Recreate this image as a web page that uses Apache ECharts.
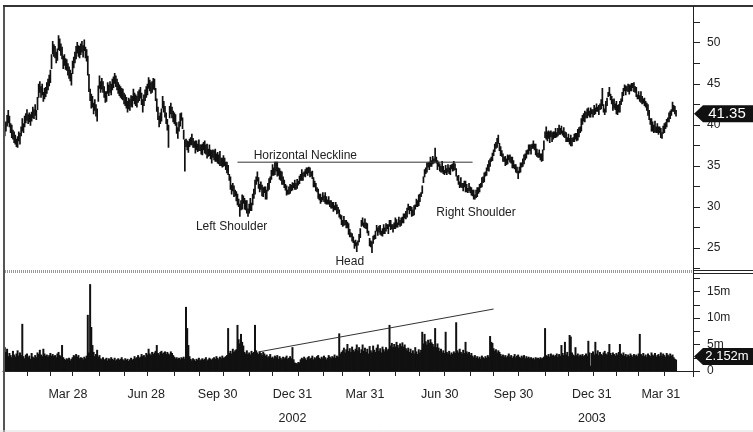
<!DOCTYPE html>
<html><head><meta charset="utf-8">
<script src="https://cdn.jsdelivr.net/npm/echarts@6/dist/echarts.min.js"></script>
<style>html,body{margin:0;padding:0;background:#fff}#c{width:753px;height:432px}</style>
</head><body><div id="c"></div>
<script>
// daily lows (trading days, Jan 2001 - Apr 2003)
const lows = [
38.3,38.6,39.2,39.8,40.2,39.7,39.0,38.4,38.2,37.8,
37.6,37.3,37.2,38.0,37.6,38.6,39.2,39.0,39.7,40.2,
40.5,40.1,40.3,39.9,40.4,40.8,40.7,41.1,40.6,41.8,
43.3,43.9,43.3,43.6,42.8,43.1,43.4,43.8,44.2,44.7,
45.1,46.8,48.6,48.3,48.1,47.5,47.8,49.1,49.0,48.4,
48.0,46.8,47.2,46.7,46.6,46.0,45.6,45.3,44.8,46.2,
46.9,47.5,48.0,48.7,48.3,48.1,48.5,48.8,48.2,49.0,
48.1,47.7,46.0,44.0,42.9,42.0,42.1,41.3,41.7,41.0,
40.4,42.8,44.4,43.9,44.3,43.9,43.3,42.7,42.8,43.8,
43.5,43.9,43.6,44.2,44.5,45.0,44.6,44.2,43.8,43.5,
43.3,43.1,43.0,42.5,42.3,42.0,41.5,41.9,41.7,42.2,
42.1,42.9,42.5,42.3,42.1,42.7,42.9,43.2,42.4,41.5,
42.3,42.9,43.3,43.6,44.4,44.1,43.8,43.9,44.3,44.2,
42.9,41.6,40.6,39.7,40.1,40.4,42.0,41.5,40.9,40.1,
39.3,37.2,40.8,41.3,40.8,40.3,40.1,39.9,38.9,38.3,
39.2,39.8,40.5,39.5,38.2,34.3,37.3,36.9,36.6,37.3,
37.5,37.5,37.2,37.2,36.5,36.9,36.7,36.8,36.8,36.4,
36.3,36.9,36.5,36.4,35.9,36.1,36.2,35.8,35.3,36.0,
35.7,35.5,35.5,35.3,35.2,35.0,35.0,34.8,34.9,35.0,
34.5,34.1,33.9,33.2,32.1,31.5,31.9,31.2,31.3,30.7,
30.2,30.0,28.8,29.6,29.7,30.4,29.7,29.6,29.2,28.8,
29.2,29.5,29.5,30.2,31.0,31.5,32.7,33.1,32.2,31.8,
32.1,31.3,31.2,31.7,30.9,30.9,31.9,32.1,32.9,33.3,
33.8,33.8,33.9,34.3,33.7,33.8,33.3,33.2,32.7,32.7,
32.3,32.0,31.4,31.5,31.5,31.6,31.9,32.0,32.3,32.1,
32.1,32.2,32.6,32.8,33.2,33.2,33.2,33.7,33.6,34.0,
33.8,34.1,33.6,33.7,33.4,32.4,32.4,31.9,31.8,31.0,
30.8,30.4,30.6,30.8,30.6,30.4,30.3,30.3,30.3,30.0,
29.8,29.8,29.4,29.6,29.6,29.1,29.2,28.7,28.5,27.8,
27.6,27.7,27.8,27.4,27.4,26.6,26.3,26.3,25.8,25.6,
24.9,25.2,24.5,25.3,25.7,26.2,27.6,27.7,27.5,27.4,
27.3,26.8,26.5,25.2,25.1,24.4,25.5,26.0,26.1,27.0,
26.5,26.9,26.6,26.5,26.4,26.7,26.7,27.0,27.3,26.7,
27.6,27.2,27.3,26.9,27.3,27.3,27.5,27.5,27.8,27.6,
27.7,28.0,28.0,28.6,28.5,28.7,29.6,29.1,29.5,28.8,
28.9,29.0,29.7,30.0,30.0,30.1,30.6,31.2,31.6,32.9,
33.6,34.0,34.2,34.8,34.5,34.9,34.9,35.2,35.3,35.5,
35.3,34.5,34.9,34.3,34.2,34.2,34.0,33.9,34.1,33.9,
34.2,34.0,33.9,34.6,34.3,34.4,34.5,33.7,33.2,32.7,
32.3,32.4,32.3,31.9,32.4,31.8,31.8,31.7,31.9,31.7,
31.4,31.3,30.9,30.9,31.1,31.2,31.6,31.8,32.3,32.4,
32.9,33.0,33.7,33.8,34.4,34.3,34.9,35.5,35.6,36.2,
36.7,37.1,37.2,37.7,36.8,36.2,36.1,35.5,35.5,35.0,
35.1,35.2,35.7,35.4,35.3,34.7,34.7,34.6,34.2,34.1,
33.4,34.1,34.2,34.8,34.9,35.2,35.7,35.9,36.4,36.4,
36.8,36.4,37.1,37.1,36.9,36.3,36.1,36.0,36.0,35.7,
35.5,35.6,36.9,38.4,38.2,38.0,38.3,37.8,38.5,37.9,
38.2,38.4,38.4,38.5,38.6,38.8,38.8,38.9,38.7,38.5,
38.4,37.9,37.9,37.9,37.6,37.4,37.4,37.9,37.9,38.2,
38.0,38.1,38.5,39.0,39.2,40.0,40.4,40.3,40.8,40.8,
41.1,40.9,40.9,41.3,40.9,41.2,41.3,41.6,41.6,41.2,
41.8,41.9,42.3,41.5,41.2,41.5,42.3,43.4,43.5,43.0,
42.5,41.7,42.0,41.8,41.3,41.2,41.5,41.5,42.4,42.8,
43.5,44.1,43.6,44.1,44.0,43.7,44.1,44.1,44.5,44.0,
43.9,43.4,43.1,43.1,42.8,42.7,42.5,42.6,42.3,42.1,
41.7,41.1,40.6,40.0,39.2,39.2,39.0,39.1,39.0,39.0,
38.8,39.0,38.4,38.3,38.9,39.0,39.5,39.7,40.3,40.3,
40.7,41.1,41.6,41.6,41.3,41.0
];
// daily highs
const highs = [
39.7,40.2,40.4,41.2,41.8,41.1,40.2,40.0,39.4,39.2,
38.8,38.3,38.6,39.2,39.0,39.8,40.8,40.2,41.1,41.4,
41.9,41.3,41.5,41.3,41.6,42.2,41.9,42.5,41.8,43.4,
45.0,45.3,44.7,45.0,44.0,44.5,44.6,45.2,45.6,46.1,
46.7,48.6,50.2,49.8,49.6,48.9,49.3,50.9,50.5,49.9,
49.5,48.4,48.6,48.1,48.0,47.5,47.1,46.7,46.3,47.8,
48.3,48.9,49.6,50.1,49.7,49.6,49.9,50.2,49.7,50.4,
49.5,49.2,48.4,46.2,44.4,43.8,43.5,42.7,43.1,42.5,
42.0,44.8,46.0,45.3,45.7,45.3,44.7,44.1,44.1,45.2,
44.9,45.3,45.0,45.6,45.9,46.3,46.0,45.6,45.2,44.9,
44.7,44.5,44.4,43.9,43.7,43.4,42.9,43.3,43.1,43.6,
43.5,44.4,43.9,43.7,43.5,44.1,44.3,44.6,43.9,43.1,
43.7,44.3,44.7,45.0,45.8,45.5,45.2,45.3,45.7,45.6,
44.5,43.2,42.2,41.1,41.5,42.0,43.5,42.9,42.3,41.5,
40.7,40.0,42.3,42.7,42.2,41.7,41.5,41.3,40.3,39.7,
40.4,41.4,41.5,40.9,39.4,38.2,38.3,38.1,38.0,38.3,
38.5,38.9,38.4,38.0,38.1,38.1,37.7,38.2,37.6,37.6,
37.7,37.9,38.1,37.6,37.7,37.1,37.6,37.0,36.9,37.0,
36.9,37.1,36.5,36.7,36.4,36.8,36.0,36.0,36.3,36.0,
35.5,35.5,35.1,34.0,33.7,32.7,32.9,32.6,32.1,31.9,
31.6,31.0,30.4,30.8,31.5,31.4,31.1,30.8,30.8,29.8,
30.4,31.1,30.5,31.6,32.2,33.3,33.7,34.3,33.6,32.8,
33.1,32.7,32.4,32.5,32.5,32.1,32.9,33.5,33.7,34.5,
35.2,34.8,35.5,35.5,35.5,34.8,34.7,34.4,34.3,33.7,
33.3,32.8,32.6,32.1,32.5,32.8,32.7,33.0,32.9,33.3,
32.9,33.4,33.2,33.8,34.0,34.6,34.2,34.3,34.6,34.8,
34.8,34.9,34.8,34.3,34.4,33.6,33.2,32.9,32.4,32.2,
31.6,31.6,31.2,31.8,31.4,31.8,31.3,30.9,31.3,30.8,
30.8,30.6,30.6,30.2,30.6,30.3,30.0,29.7,29.1,29.0,
28.4,28.9,28.4,28.4,28.2,28.0,27.3,26.9,26.8,26.4,
25.9,26.0,25.7,25.9,26.7,27.4,28.4,28.7,28.1,28.6,
28.1,28.0,27.1,26.2,25.9,25.8,26.5,26.6,27.1,27.8,
27.5,27.7,27.8,27.1,27.4,27.9,27.5,28.0,27.9,27.9,
28.4,28.4,27.9,27.9,28.1,28.7,28.5,28.1,28.8,28.4,
28.7,28.8,29.2,29.2,29.5,29.9,30.4,30.1,30.1,30.0,
29.7,30.2,30.3,31.0,30.8,31.5,31.6,31.8,32.6,33.7,
34.6,34.8,35.4,35.4,35.5,36.1,35.7,36.2,35.9,37.2,
36.1,35.7,35.5,35.3,35.0,35.6,35.0,34.5,35.1,34.7,
35.2,34.8,35.1,35.2,35.3,35.6,35.3,34.7,33.8,33.9,
33.1,33.6,32.9,32.9,33.2,33.2,32.8,32.3,32.9,32.5,
32.4,32.1,32.1,31.5,32.1,32.4,32.4,32.8,32.9,33.6,
33.7,34.2,34.3,34.8,35.2,35.7,35.9,36.1,36.6,37.0,
37.7,37.9,38.4,38.8,37.8,37.4,36.9,36.5,36.1,36.2,
35.9,36.4,36.3,36.4,36.1,36.1,35.7,35.2,35.2,34.9,
34.4,34.9,35.4,35.4,35.9,36.4,36.5,36.9,37.0,37.6,
37.6,37.6,37.7,38.1,37.7,37.7,37.1,36.6,37.0,36.5,
36.5,37.0,38.1,39.2,39.8,39.2,39.3,39.2,39.3,39.1,
39.2,39.2,39.6,39.1,39.6,40.0,39.6,39.9,39.3,39.7,
39.2,39.1,38.5,38.9,38.4,38.8,38.4,38.5,38.9,39.0,
39.0,39.5,39.7,39.8,40.8,41.2,41.4,41.7,41.6,42.0,
42.1,41.7,42.1,41.9,41.9,42.4,42.1,42.6,42.2,42.4,
42.6,43.1,44.5,42.5,42.0,42.9,43.3,44.0,44.6,43.8,
43.5,43.1,43.2,42.6,42.9,42.4,42.5,42.9,43.2,44.0,
44.5,44.9,44.8,44.7,45.0,44.9,44.9,45.1,45.1,45.2,
44.7,44.6,43.7,44.1,43.6,44.1,43.5,43.2,43.3,42.9,
42.7,42.5,41.8,40.8,40.8,40.4,40.0,40.5,39.8,40.2,
39.8,39.8,39.6,39.1,39.9,40.2,40.3,40.7,40.9,41.5,
41.7,41.9,42.8,42.4,42.3,41.8
];
// daily volume, millions of shares
const volumes = [
3.2,4.5,3.6,4.2,2.8,3.4,3.0,2.6,3.8,3.1,
2.7,3.3,3.9,2.9,3.5,3.0,8.9,2.8,2.4,3.1,
3.3,2.6,2.9,2.3,3.4,2.7,2.5,3.0,2.6,3.5,
3.2,4.0,3.1,2.8,4.2,3.3,2.9,3.1,2.7,3.0,
3.4,2.9,3.2,2.8,3.0,2.6,3.3,3.6,3.0,2.8,
4.9,2.6,2.3,2.1,2.4,2.2,2.5,2.0,2.3,2.6,
3.0,2.8,3.2,2.7,3.0,2.4,2.6,2.5,2.2,2.7,
2.4,2.9,10.6,3.5,16.4,8.3,4.9,3.6,2.8,3.2,
4.0,2.7,3.0,2.4,2.2,2.6,2.1,2.3,2.5,2.0,
2.4,2.2,2.6,2.3,2.1,2.5,2.0,2.2,2.4,2.1,
2.3,2.6,2.2,2.0,2.4,2.1,2.3,1.9,2.2,2.5,
2.1,2.3,2.8,2.4,2.6,3.0,2.5,2.7,3.2,2.8,
3.0,2.6,3.4,3.1,4.2,3.3,3.0,3.6,3.2,3.5,
3.8,4.9,3.4,3.1,3.6,3.8,3.3,3.5,3.7,3.2,
3.6,3.3,3.1,3.7,3.4,3.0,2.7,2.4,2.6,2.3,
2.5,2.2,2.6,2.4,2.7,2.3,12.1,8.1,4.9,2.8,
2.3,2.0,2.4,2.2,1.9,2.3,2.1,2.5,2.0,2.2,
2.4,2.1,2.3,2.6,2.0,2.2,2.5,2.3,2.1,2.4,
2.6,2.3,2.8,2.5,2.2,2.7,2.4,2.9,2.5,2.6,
2.8,3.0,8.1,3.4,3.8,3.3,4.2,3.6,3.9,4.1,
8.7,6.0,5.2,7.0,5.5,4.8,3.6,3.3,3.9,3.2,
3.5,3.1,3.8,3.4,3.6,8.7,3.9,3.5,3.2,3.7,
3.4,3.0,3.6,3.3,2.9,3.1,2.6,2.8,3.2,2.5,
2.7,2.4,2.9,2.6,3.0,2.3,2.8,2.5,2.2,2.7,
2.4,2.6,2.9,2.3,2.5,2.8,2.4,4.5,2.2,1.6,
1.5,1.4,1.7,1.6,2.2,2.5,2.3,2.7,2.4,2.1,
2.6,2.8,2.3,2.5,2.9,2.2,2.6,2.4,2.8,3.0,
2.5,2.3,2.7,2.4,2.9,2.6,2.2,2.5,3.0,2.7,
2.4,2.8,2.6,3.1,2.5,2.9,2.7,7.1,3.3,3.6,
3.9,4.4,3.5,4.1,5.1,3.8,4.3,3.6,4.6,4.0,
3.7,4.2,5.0,3.9,4.5,3.4,4.1,5.0,3.8,4.4,
3.6,4.2,3.3,4.7,3.9,3.5,4.8,4.0,3.6,4.4,
5.0,3.8,4.3,3.5,4.6,4.1,3.7,4.5,3.9,4.2,
8.7,4.8,5.3,4.5,5.1,4.6,5.5,4.9,4.4,5.2,
4.7,5.4,4.6,5.0,4.3,3.9,4.4,3.6,4.2,3.4,
3.9,3.3,4.5,3.7,3.2,4.1,3.5,4.0,7.4,5.2,
7.0,5.6,5.0,5.9,5.3,6.0,5.4,5.1,4.6,8.1,
4.5,5.2,4.4,3.8,4.2,3.5,3.9,3.4,7.4,3.6,
3.3,3.8,3.1,3.5,3.2,3.7,3.4,9.2,3.9,3.5,
4.2,3.6,3.3,4.0,3.4,5.5,3.7,3.3,3.6,3.0,
3.4,2.9,2.6,3.0,2.5,2.8,2.4,2.7,2.3,2.9,
2.6,2.4,2.8,2.5,3.0,2.7,6.6,5.5,5.3,4.3,
3.8,4.1,3.5,3.9,3.6,3.2,2.8,3.1,2.7,3.0,
2.6,2.9,3.3,2.7,3.0,2.5,2.8,3.2,2.6,2.9,
3.1,2.7,2.5,2.9,2.6,3.0,2.4,2.8,2.5,2.7,
2.4,2.6,2.3,2.5,2.2,2.6,2.4,2.5,2.3,2.6,
2.4,2.5,2.7,8.1,3.0,2.8,3.2,2.7,3.3,2.9,
3.1,2.8,3.0,3.3,2.7,3.2,2.9,4.9,3.4,3.0,
5.5,3.1,3.6,2.8,6.8,6.5,3.5,3.1,2.9,4.5,
3.0,3.3,2.8,3.1,2.9,3.2,2.8,3.0,3.3,2.9,
5.7,3.5,1.0,3.4,3.7,3.1,5.5,3.3,3.9,3.0,
3.6,3.2,3.0,3.5,3.8,3.3,3.1,3.6,5.1,3.4,
3.0,3.5,3.2,2.9,3.4,3.1,3.6,5.1,3.3,3.0,
3.5,2.9,3.2,2.7,3.1,2.8,3.3,3.0,2.7,3.2,
2.9,3.1,2.8,3.3,7.0,3.2,2.9,3.4,2.8,3.1,
2.7,3.3,3.0,2.8,3.5,3.1,2.9,3.4,2.7,3.0,
3.2,2.8,3.5,2.9,3.3,3.0,2.7,3.4,3.1,2.8,
3.3,2.9,3.1,2.6,2.3,2.152
];
const totalSlots = 590;                 // trading-day slots on the time axis
const monthTickDays = [20,40,59,82,103,123,146,167,188,210,230,252,273,290,313,335,355,377,399,419,440,463,483,504,524,543,565];
const labelDays = [55,122,183,247,309,373,436,503,562];
const tickLabels = ['Mar 28','Jun 28','Sep 30','Dec 31\n2002','Mar 31','Jun 30','Sep 30','Dec 31\n2003','Mar 31'];
const neckline = [[200, 35.45], [401, 35.45]];
const volumeTrend = [[218, 3.6], [419, 11.7]];
const lastPrice = 41.35;
const lastVolume = 2.152;
const annotationTexts = ['Horizontal Neckline', 'Left Shoulder', 'Head', 'Right Shoulder'];

const FONT = "'Liberation Sans', Arial, sans-serif";
const categories = Array.from({length: totalSlots}, (_, i) => String(i));
const priceData = lows.map((l, i) => [i, l, highs[i]]);

const chart = echarts.init(document.getElementById('c'), null, {renderer: 'canvas'});
chart.setOption({
  animation: false,
  backgroundColor: '#fff',
  grid: [
    {left: 3, right: 60, top: 22.2, height: 246.3},
    {left: 3, right: 60, top: 278.3, height: 92.7}
  ],
  xAxis: [
    {type: 'category', gridIndex: 0, data: categories, show: false, boundaryGap: true},
    {type: 'category', gridIndex: 1, data: categories, boundaryGap: true, offset: 6,
      axisLine: {show: true, lineStyle: {color: '#222', width: 1}},
      axisTick: {show: true, alignWithLabel: true, length: 5, lineStyle: {color: '#222'},
        interval: (idx) => monthTickDays.indexOf(idx) >= 0},
      axisLabel: {show: true, margin: 6, color: '#222', fontFamily: FONT, fontSize: 12.5, lineHeight: 24,
        interval: (idx) => labelDays.indexOf(idx) >= 0,
        formatter: (v, idx) => { const k = labelDays.indexOf(idx); return k >= 0 ? tickLabels[k] : ''; }},
      splitLine: {show: false}}
  ],
  yAxis: [
    {type: 'value', gridIndex: 0, position: 'right', min: 22.5, max: 52.5, interval: 2.5,
      axisLine: {show: false}, splitLine: {show: false},
      axisTick: {show: true, length: 7, lineStyle: {color: '#222'}},
      axisLabel: {margin: 14, color: '#222', fontFamily: FONT, fontSize: 12,
        formatter: (v) => (Math.abs(v % 5) < 1e-9 ? String(v) : '')}},
    {type: 'value', gridIndex: 1, position: 'right', min: 0, max: 17.5, interval: 2.5,
      axisLine: {show: false}, splitLine: {show: false},
      axisTick: {show: true, length: 7, lineStyle: {color: '#222'}},
      axisLabel: {margin: 14, color: '#222', fontFamily: FONT, fontSize: 12,
        formatter: (v) => (v === 0 ? '0' : (Math.abs(v % 5) < 1e-9 ? v + 'm' : ''))}}
  ],
  series: [
    {type: 'custom', name: 'price', xAxisIndex: 0, yAxisIndex: 0, data: priceData,
      encode: {x: 0, y: [1, 2]}, clip: true,
      renderItem: function (params, api) {
        const x = api.value(0);
        const top = api.coord([x, api.value(2)]);
        const bot = api.coord([x, api.value(1)]);
        const w = 1.7;
        return {type: 'rect', shape: {x: top[0] - w / 2, y: top[1], width: w, height: Math.max(1, bot[1] - top[1])},
          style: {fill: '#111'}};
      }},
    {type: 'line', name: 'neckline', xAxisIndex: 0, yAxisIndex: 0, data: neckline, symbol: 'none',
      lineStyle: {color: '#333', width: 1}, silent: true, z: 5},
    {type: 'bar', name: 'volume', xAxisIndex: 1, yAxisIndex: 1, data: volumes, barWidth: 2,
      itemStyle: {color: '#111'}},
    {type: 'line', name: 'volTrend', xAxisIndex: 1, yAxisIndex: 1, data: volumeTrend, symbol: 'none',
      lineStyle: {color: '#333', width: 1}, silent: true, z: 5}
  ]
});

// annotations & last-value tags positioned through the chart's own scales
const px = (day, price) => chart.convertToPixel({gridIndex: 0}, [day, price]);
const annPos = [[258, 36.3], [195, 27.55], [296, 23.3], [404, 29.26]];
const yP = chart.convertToPixel({yAxisIndex: 0}, lastPrice);
const yV = chart.convertToPixel({yAxisIndex: 1}, lastVolume) - 3;
const tag = (y, txt, size) => ([
  {type: 'polygon', z: 100, shape: {points: [[694, y], [703, y - 8.5], [753, y - 8.5], [753, y + 8.5], [703, y + 8.5]]},
    style: {fill: '#111'}},
  {type: 'text', z: 101, style: {text: txt, x: 727, y: y, fill: '#fff', font: size + 'px ' + FONT,
    align: 'center', verticalAlign: 'middle', textAlign: 'center', textVerticalAlign: 'middle'}}
]);
const graphics = [
  {type: 'line', z: 50, shape: {x1: 4, y1: 5, x2: 4, y2: 432}, style: {stroke: '#555', lineWidth: 2}},
  {type: 'line', z: 50, shape: {x1: 3, y1: 6, x2: 753, y2: 6}, style: {stroke: '#333', lineWidth: 2}},
  {type: 'line', z: 50, shape: {x1: 693.5, y1: 6, x2: 693.5, y2: 377}, style: {stroke: '#222', lineWidth: 1}},
  {type: 'line', z: 50, shape: {x1: 5, y1: 271.5, x2: 693, y2: 271.5}, style: {stroke: '#999', lineWidth: 3, lineDash: [1, 1]}},
  {type: 'line', z: 50, shape: {x1: 693, y1: 270.5, x2: 753, y2: 270.5}, style: {stroke: '#222', lineWidth: 1}},
  {type: 'line', z: 50, shape: {x1: 693, y1: 273.5, x2: 753, y2: 273.5}, style: {stroke: '#222', lineWidth: 1}},
  {type: 'line', z: 50, shape: {x1: 0, y1: 431, x2: 753, y2: 431}, style: {stroke: '#ddd', lineWidth: 1}}
].concat(tag(yP, lastPrice.toFixed(2), 15), tag(yV, lastVolume.toFixed(3) + 'm', 13));
annotationTexts.forEach((t, k) => {
  const p = px(annPos[k][0], annPos[k][1]);
  graphics.push({type: 'text', z: 60, style: {text: t, x: p[0], y: p[1], fill: '#222', font: '12px ' + FONT,
    align: 'center', verticalAlign: 'middle', textAlign: 'center', textVerticalAlign: 'middle'}});
});
chart.setOption({graphic: graphics});
</script>
</body></html>
